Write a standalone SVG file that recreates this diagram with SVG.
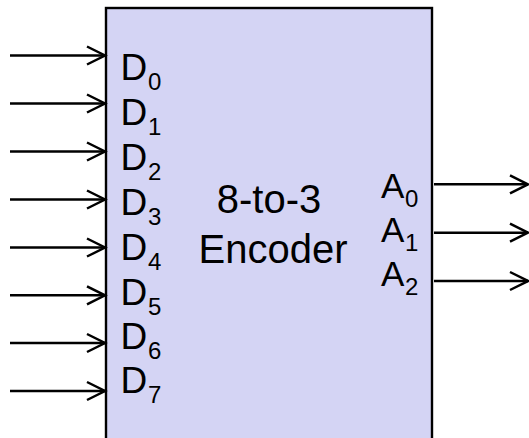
<svg xmlns="http://www.w3.org/2000/svg" width="529" height="438" viewBox="0 0 529 438">
  <style>
    .wire { stroke: #000; stroke-width: 2.5; fill: none; marker-end: url(#open); }
    .box { fill: #d4d4f4; stroke: #000; stroke-width: 2.4; }
    .lbl { font-family: "Liberation Sans", Arial, sans-serif; font-size: 37px; fill: #000; }
    .albl { font-family: "Liberation Sans", Arial, sans-serif; font-size: 35px; fill: #000; }
    .sub { font-size: 24px; }
    .title { font-family: "Liberation Sans", Arial, sans-serif; font-size: 40px; fill: #000; text-anchor: middle; }
  </style>
  <defs>
    <marker id="open" markerUnits="userSpaceOnUse" markerWidth="24" markerHeight="24" refX="18" refY="9" orient="auto" overflow="visible">
      <path d="M0,0 L18,9 L0,18" fill="none" stroke="#000" stroke-width="2.5"/>
    </marker>
  </defs>

  <!-- encoder block, runs off the bottom edge -->
  <g id="encoder">
    <rect class="box" x="106" y="8" width="326" height="440"/>
    <text class="title" x="269" y="213">8-to-3</text>
    <text class="title" x="273" y="263">Encoder</text>
  </g>

  <!-- input labels -->
  <g id="inputs">
    <text class="lbl" x="120.5" y="80">D<tspan class="sub" x="148" y="90">0</tspan></text>
    <text class="lbl" x="120.5" y="125">D<tspan class="sub" x="148" y="135">1</tspan></text>
    <text class="lbl" x="120.5" y="169.5">D<tspan class="sub" x="148" y="179.5">2</tspan></text>
    <text class="lbl" x="120.5" y="215">D<tspan class="sub" x="148" y="225">3</tspan></text>
    <text class="lbl" x="120.5" y="260">D<tspan class="sub" x="148" y="270">4</tspan></text>
    <text class="lbl" x="120.5" y="305">D<tspan class="sub" x="148" y="315">5</tspan></text>
    <text class="lbl" x="120.5" y="349">D<tspan class="sub" x="148" y="359">6</tspan></text>
    <text class="lbl" x="120.5" y="393">D<tspan class="sub" x="148" y="403">7</tspan></text>
  </g>

  <!-- output labels -->
  <g id="outputs">
    <text class="albl" x="381" y="198">A<tspan class="sub" x="405" y="207">0</tspan></text>
    <text class="albl" x="381" y="242">A<tspan class="sub" x="405" y="251">1</tspan></text>
    <text class="albl" x="381" y="286">A<tspan class="sub" x="405" y="295">2</tspan></text>
  </g>

  <!-- connectors -->
  <g id="connectors">
    <line class="wire" x1="10" y1="55.5" x2="105" y2="55.5"/>
    <line class="wire" x1="10" y1="103.5" x2="105" y2="103.5"/>
    <line class="wire" x1="10" y1="151.5" x2="105" y2="151.5"/>
    <line class="wire" x1="10" y1="199.5" x2="105" y2="199.5"/>
    <line class="wire" x1="10" y1="247.5" x2="105" y2="247.5"/>
    <line class="wire" x1="10" y1="295.3" x2="105" y2="295.3"/>
    <line class="wire" x1="10" y1="343" x2="105" y2="343"/>
    <line class="wire" x1="10" y1="391" x2="105" y2="391"/>
    <line class="wire" x1="434" y1="184.3" x2="528" y2="184.3"/>
    <line class="wire" x1="434" y1="232.7" x2="528" y2="232.7"/>
    <line class="wire" x1="434" y1="281" x2="528" y2="281"/>
  </g>
</svg>
